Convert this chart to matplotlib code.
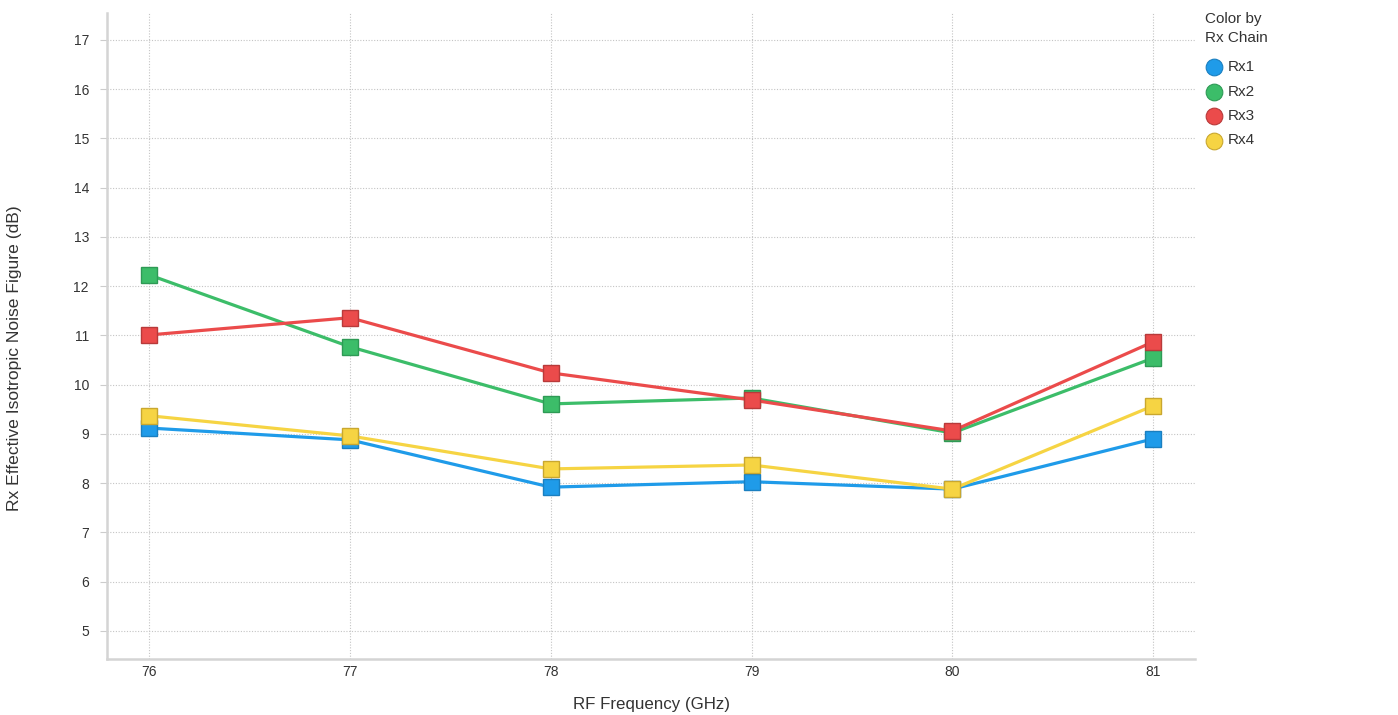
import matplotlib
matplotlib.use("Agg")
import matplotlib.pyplot as plt
from matplotlib.lines import Line2D

plt.rcParams["font.family"] = ["Liberation Sans", "DejaVu Sans"]

# ── Data ───────────────────────────────────────────────────────────────────────
freq_ghz = [76, 77, 78, 79, 80, 81]
rx1 = [9.12, 8.88, 7.92, 8.03, 7.88, 8.90]
rx2 = [12.23, 10.77, 9.61, 9.73, 9.02, 10.54]
rx3 = [11.01, 11.36, 10.24, 9.69, 9.06, 10.87]
rx4 = [9.37, 8.96, 8.29, 8.37, 7.88, 9.57]
series_names = ["Rx1", "Rx2", "Rx3", "Rx4"]
y_ticks = list(range(5, 18))

colors = ["#1f9be9", "#3cbd69", "#eb4b4b", "#f6d443"]
edges = ["#1a7fc0", "#2e9a55", "#b83a3a", "#c9a72f"]

W, H = 1398, 715

# ── Plot ───────────────────────────────────────────────────────────────────────
fig = plt.figure(figsize=(W / 100, H / 100), dpi=100)
ax = fig.add_axes([0.0765, 0.0783, 0.7785, 0.9037])

for name, vals, c, ec in zip(series_names, [rx1, rx2, rx3, rx4], colors, edges):
    ax.plot(freq_ghz, vals, color=c, linewidth=2.3, marker="s", markersize=11.5,
            markerfacecolor=c, markeredgecolor=ec, markeredgewidth=1.0,
            label=name, zorder=3)

ax.set_xlim(75.79, 81.21)
ax.set_ylim(4.43, 17.55)
ax.set_xticks(freq_ghz)
ax.set_yticks(y_ticks)
ax.tick_params(axis="both", labelsize=10, colors="#333333")
ax.tick_params(axis="x", length=0, pad=4)
ax.tick_params(axis="y", length=5, color="#cccccc", pad=8)

ax.grid(True, color="#c4c4c4", linestyle=(0, (1, 1.5)), linewidth=0.8)
for side in ["top", "right"]:
    ax.spines[side].set_visible(False)
for side in ["left", "bottom"]:
    ax.spines[side].set_color("#d4d4d4")
    ax.spines[side].set_linewidth(1.8)

ax.set_xlabel("RF Frequency (GHz)", fontsize=12.2, color="#333333", labelpad=13)
ax.set_ylabel("Rx Effective Isotropic Noise Figure (dB)", fontsize=12.6,
              color="#333333")
ax.yaxis.set_label_coords(-0.078, 0.466)

# ── Legend (placed by hand, pixel positions from the top-left) ────────────────
def fx(px):
    return px / W

def fy(py):
    return 1 - py / H

fig.text(fx(1205), fy(28.5), "Color by\nRx Chain", fontsize=11, color="#333333",
         ha="left", va="center", linespacing=1.5)
for i, (name, c, ec) in enumerate(zip(series_names, colors, edges)):
    yy = 67 + i * 24.5
    fig.add_artist(Line2D([fx(1214)], [fy(yy)], linestyle="none", marker="o",
                          markersize=12, markerfacecolor=c, markeredgecolor=ec,
                          markeredgewidth=0.8, transform=fig.transFigure))
    fig.text(fx(1228), fy(yy), name, fontsize=11, color="#333333",
             ha="left", va="center")

fig.savefig("out.png", dpi=100)
